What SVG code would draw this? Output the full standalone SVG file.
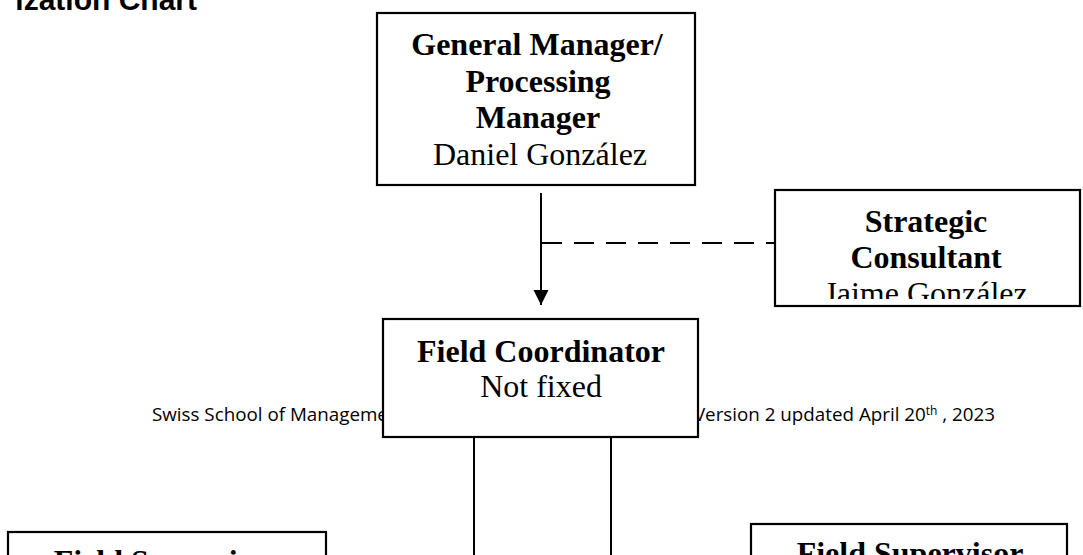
<svg xmlns="http://www.w3.org/2000/svg" width="1083" height="555" viewBox="0 0 1083 555">
<style>
.box{fill:#fff;stroke:#000;stroke-width:2.2}
.t{font-family:"Liberation Serif","Times New Roman",serif;font-size:32px;fill:#000;text-anchor:middle}
.b{font-weight:bold}
.ln{stroke:#000;stroke-width:2;fill:none}
.foot{font-family:"Open Sans","Liberation Sans",sans-serif;font-size:18.8px;fill:#000}
</style>
<defs>
<marker id="arr" markerUnits="userSpaceOnUse" markerWidth="16" markerHeight="16" refX="15" refY="8" orient="auto">
<path d="M0,0.5 L15,8 L0,15.5 Z" fill="#000"/>
</marker>
<clipPath id="clipSC"><rect x="777" y="192" width="301" height="107"/></clipPath>
</defs>
<rect width="1083" height="555" fill="#fff"/>
<text x="197" y="10" text-anchor="end" font-family="'Liberation Sans',Arial,sans-serif" font-size="30" font-weight="bold">ization Chart</text>
<g id="footer">
<text class="foot" x="152" y="421" font-size="18.3">Swiss School of Manageme</text>
<text class="foot" x="995" y="421" text-anchor="end">Version 2 updated April 20<tspan font-size="12" dy="-6">th</tspan><tspan dy="6"> , 2023</tspan></text>
</g>
<g id="connectors">
<line class="ln" x1="541" y1="193" x2="541" y2="305" marker-end="url(#arr)"/>
<line class="ln" x1="542" y1="243" x2="775" y2="243" stroke-dasharray="20 12"/>
<line class="ln" x1="474" y1="437" x2="474" y2="556"/>
<line class="ln" x1="611" y1="437" x2="611" y2="556"/>
</g>
<g id="general-manager">
<rect class="box" x="377" y="13" width="318" height="172"/>
<text class="t b" x="537" y="55">General Manager/</text>
<text class="t b" x="538" y="91.7">Processing</text>
<text class="t b" x="538" y="128.4">Manager</text>
<text class="t" x="540" y="165">Daniel González</text>
</g>
<g id="strategic-consultant">
<rect class="box" x="775" y="190" width="305" height="116"/>
<text class="t b" x="926" y="232">Strategic</text>
<text class="t b" x="926" y="267.5">Consultant</text>
<text class="t" x="926" y="304" clip-path="url(#clipSC)">Jaime González</text>
</g>
<g id="field-coordinator">
<rect class="box" x="383" y="319" width="315" height="118"/>
<text class="t b" x="541" y="362">Field Coordinator</text>
<text class="t" x="541" y="397">Not fixed</text>
</g>
<g id="field-supervisor-left">
<rect class="box" x="8" y="532" width="318" height="110"/>
<text class="t b" x="167" y="572">Field Supervisor</text>
</g>
<g id="field-supervisor-right">
<rect class="box" x="751" y="524" width="316" height="110"/>
<text class="t b" x="910" y="564">Field Supervisor</text>
</g>
</svg>
